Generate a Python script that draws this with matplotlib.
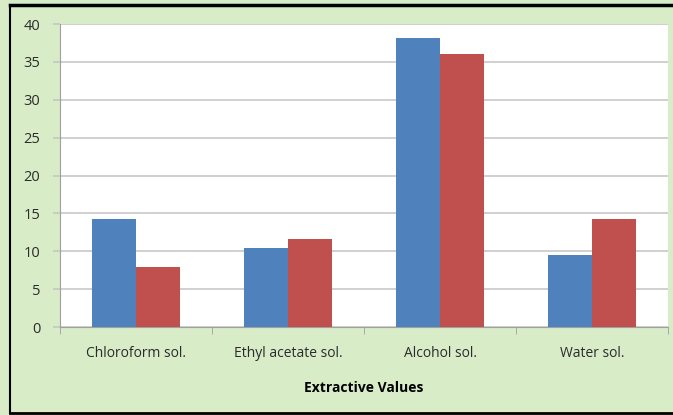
import matplotlib.pyplot as plt
import numpy as np
from matplotlib.lines import Line2D

categories = ["Chloroform sol.", "Ethyl acetate sol.", "Alcohol sol.", "Water sol."]
series_a = [14.3, 10.4, 38.1, 9.5]
series_b = [7.9, 11.6, 36.0, 14.2]
yticks = [0, 5, 10, 15, 20, 25, 30, 35, 40]

plt.rcParams["font.family"] = ["Open Sans", "DejaVu Sans"]

fig = plt.figure(figsize=(6.73, 4.15), dpi=100, facecolor="#d8ecc8")
ax = fig.add_axes([0.089, 0.212, 0.904, 0.730])
ax.set_facecolor("white")

x = np.arange(len(categories))
w = 0.29
ax.bar(x - w / 2, series_a, width=w, color="#4f81bd", zorder=3)
ax.bar(x + w / 2, series_b, width=w, color="#c0504d", zorder=3)

ax.set_xlim(-0.5, len(categories) - 0.5)
ax.set_ylim(0, 40)
ax.set_yticks(yticks)
ax.set_yticklabels([str(v) for v in yticks], fontsize=10.5, color="#2b2b2b")
ax.yaxis.grid(True, color="#c4c4c4", linewidth=1.1, zorder=0)

# category labels centred, tick marks at group boundaries
ax.set_xticks(x)
ax.set_xticklabels(categories, fontsize=10, color="#2b2b2b")
ax.tick_params(axis="x", length=0, pad=14)
ax.set_xticks(np.arange(len(categories) + 1) - 0.5, minor=True)
ax.tick_params(axis="x", which="minor", length=5, color="#a0a0a0", direction="out")
ax.tick_params(axis="y", length=5, color="#c4c4c4", width=1.1, pad=9)

for side in ["top", "right"]:
    ax.spines[side].set_visible(False)
ax.spines["left"].set_color("#a0a0a0")
ax.spines["bottom"].set_color("#a0a0a0")

ax.set_xlabel("Extractive Values", fontsize=10, fontweight="bold", labelpad=14)

# dark frame around the chart
fig.add_artist(Line2D([10 / 673, 1], [1 - 5 / 415, 1 - 5 / 415], color="black", lw=2.5, transform=fig.transFigure))
fig.add_artist(Line2D([10 / 673, 10 / 673], [2 / 415, 1 - 5 / 415], color="black", lw=1.5, transform=fig.transFigure))
fig.add_artist(Line2D([10 / 673, 1], [2 / 415, 2 / 415], color="black", lw=2, transform=fig.transFigure))

fig.savefig("out.png", dpi=100, facecolor=fig.get_facecolor())
